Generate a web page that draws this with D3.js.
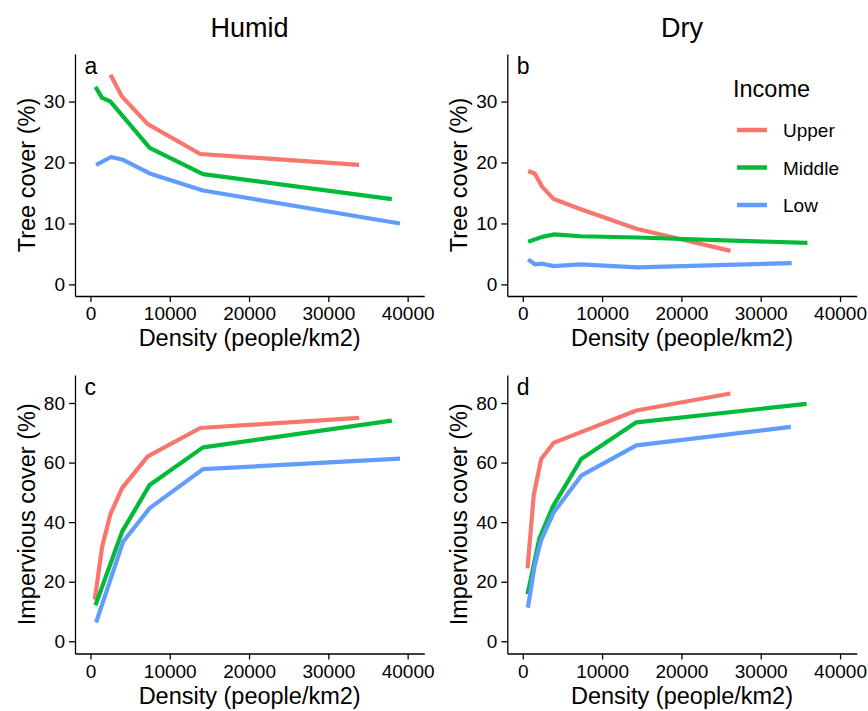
<!DOCTYPE html>
<html><head><meta charset="utf-8">
<script src="https://cdn.jsdelivr.net/npm/d3@7"></script>
<style>
body{margin:0;background:#fff;}
text{font-family:"Liberation Sans",Arial,Helvetica,sans-serif;}
</style></head>
<body>
<svg id="chart" width="868" height="711"></svg>
<script>
// ---------- data ----------
const incomeLevels = ["Upper", "Middle", "Low"];
const colors = ["#F8766D", "#00BA38", "#619CFF"];
const xTicks = [0, 10000, 20000, 30000, 40000];
const treeTicks = [0, 10, 20, 30];
const impTicks = [0, 20, 40, 60, 80];

// Panel a: Humid, tree cover
const aUpperX = [2520, 3990, 7220, 13850, 33880];
const aUpperY = [34.4, 30.8, 26.3, 21.4, 19.6];
const aMiddleX = [630, 1470, 2520, 7470, 14190, 38000];
const aMiddleY = [32.4, 30.6, 30.0, 22.4, 18.1, 14.0];
const aLowX = [710, 2600, 3990, 7470, 14190, 39040];
const aLowY = [19.6, 20.9, 20.5, 18.2, 15.4, 10.0];

// Panel b: Dry, tree cover
const bUpperX = [680, 1510, 2450, 3910, 7400, 14430, 26200];
const bUpperY = [18.6, 18.2, 16.0, 14.0, 12.3, 9.1, 5.5];
const bMiddleX = [680, 2450, 3910, 7280, 14430, 35890];
const bMiddleY = [7.0, 7.8, 8.2, 7.9, 7.7, 6.8];
const bLowX = [680, 1510, 2450, 3910, 7280, 14430, 33900];
const bLowY = [4.1, 3.3, 3.4, 3.0, 3.3, 2.8, 3.5];

// Panel c: Humid, impervious cover
const cUpperX = [540, 1470, 2520, 3990, 7220, 13850, 33880];
const cUpperY = [14.0, 31.7, 42.7, 51.4, 62.1, 71.6, 75.0];
const cMiddleX = [630, 3990, 7470, 14190, 38000];
const cMiddleY = [12.1, 36.8, 52.5, 65.1, 74.1];
const cLowX = [710, 4110, 7470, 14190, 39040];
const cLowY = [6.3, 33.4, 44.7, 57.8, 61.3];

// Panel d: Dry, impervious cover
const dUpperX = [600, 1390, 2320, 3880, 14320, 26180];
const dUpperY = [24.5, 49.2, 61.2, 66.6, 77.5, 83.2];
const dMiddleX = [600, 2100, 3790, 7370, 14320, 35780];
const dMiddleY = [15.8, 34.6, 45.2, 61.2, 73.5, 79.7];
const dLowX = [650, 1470, 2320, 3880, 7370, 14320, 33800];
const dLowY = [11.3, 25.0, 34.0, 43.2, 55.6, 65.8, 72.0];

// ---------- drawing ----------
const svg = d3.select("#chart");
const zip = (xs, ys) => xs.map((x, i) => ({x: x, y: ys[i]}));

const panels = [
  {label: "a", x0: 75, x1: 424.3, y0: 296, y1: 54, yDom: [-1.9, 37.8], yTicks: treeTicks, ytitle: "Tree cover (%)",
   series: [zip(aUpperX, aUpperY), zip(aMiddleX, aMiddleY), zip(aLowX, aLowY)]},
  {label: "b", x0: 507.3, x1: 856.7, y0: 296, y1: 54, yDom: [-1.9, 37.8], yTicks: treeTicks, ytitle: "Tree cover (%)",
   series: [zip(bUpperX, bUpperY), zip(bMiddleX, bMiddleY), zip(bLowX, bLowY)]},
  {label: "c", x0: 75, x1: 424.3, y0: 653.5, y1: 375, yDom: [-4.1, 89.4], yTicks: impTicks, ytitle: "Impervious cover (%)",
   series: [zip(cUpperX, cUpperY), zip(cMiddleX, cMiddleY), zip(cLowX, cLowY)]},
  {label: "d", x0: 507.3, x1: 856.7, y0: 653.5, y1: 375, yDom: [-4.1, 89.4], yTicks: impTicks, ytitle: "Impervious cover (%)",
   series: [zip(dUpperX, dUpperY), zip(dMiddleX, dMiddleY), zip(dLowX, dLowY)]}
];

const xDom = [-1950, 42100];

panels.forEach(p => {
  const x = d3.scaleLinear().domain(xDom).range([p.x0, p.x1]);
  const y = d3.scaleLinear().domain(p.yDom).range([p.y0, p.y1]);
  const g = svg.append("g");

  // lines
  const line = d3.line().x(d => x(d.x)).y(d => y(d.y));
  p.series.forEach((s, i) => {
    g.append("path").datum(s).attr("d", line)
      .attr("fill", "none").attr("stroke", colors[i]).attr("stroke-width", 4.2)
      .attr("stroke-linejoin", "round").attr("stroke-linecap", "butt");
  });

  // axes
  const xa = g.append("g").attr("transform", `translate(0,${p.y0})`)
    .call(d3.axisBottom(x).tickValues(xTicks).tickFormat(d3.format("d")).tickSize(6).tickPadding(5).tickSizeOuter(0));
  const ya = g.append("g").attr("transform", `translate(${p.x0},0)`)
    .call(d3.axisLeft(y).tickValues(p.yTicks).tickSize(6).tickPadding(4).tickSizeOuter(0));
  [xa, ya].forEach(a => {
    a.select(".domain").attr("stroke", "#000").attr("stroke-width", 1.3);
    a.selectAll(".tick line").attr("stroke", "#000").attr("stroke-width", 1.3);
    a.selectAll(".tick text").attr("fill", "#000").attr("font-size", 19)
      .attr("font-family", "Liberation Sans, Arial, sans-serif");
  });

  // titles
  g.append("text").attr("x", (p.x0 + p.x1) / 2).attr("y", p.y0 + 50)
    .attr("text-anchor", "middle").attr("font-size", 23.5).text("Density (people/km2)");
  g.append("text").attr("transform", `translate(${p.x0 - 40},${(p.y0 + p.y1) / 2}) rotate(-90)`)
    .attr("text-anchor", "middle").attr("font-size", 23.5).text(p.ytitle);
  g.append("text").attr("x", p.x0 + 9.5).attr("y", p.y1 + 20)
    .attr("font-size", 23).text(p.label);
});

// facet titles
svg.append("text").attr("x", 249.5).attr("y", 37).attr("text-anchor", "middle").attr("font-size", 27).text("Humid");
svg.append("text").attr("x", 682).attr("y", 37).attr("text-anchor", "middle").attr("font-size", 27).text("Dry");

// legend
const lg = svg.append("g");
lg.append("text").attr("x", 733).attr("y", 97).attr("font-size", 23.5).text("Income");
const legY = d3.scalePoint().domain(incomeLevels).range([130, 205]);
incomeLevels.forEach((lvl, i) => {
  lg.append("line").attr("x1", 737).attr("x2", 767).attr("y1", legY(lvl)).attr("y2", legY(lvl))
    .attr("stroke", colors[i]).attr("stroke-width", 4.5);
  lg.append("text").attr("x", 783).attr("y", legY(lvl) + 7).attr("font-size", 19).text(lvl);
});
</script>
</body></html>
